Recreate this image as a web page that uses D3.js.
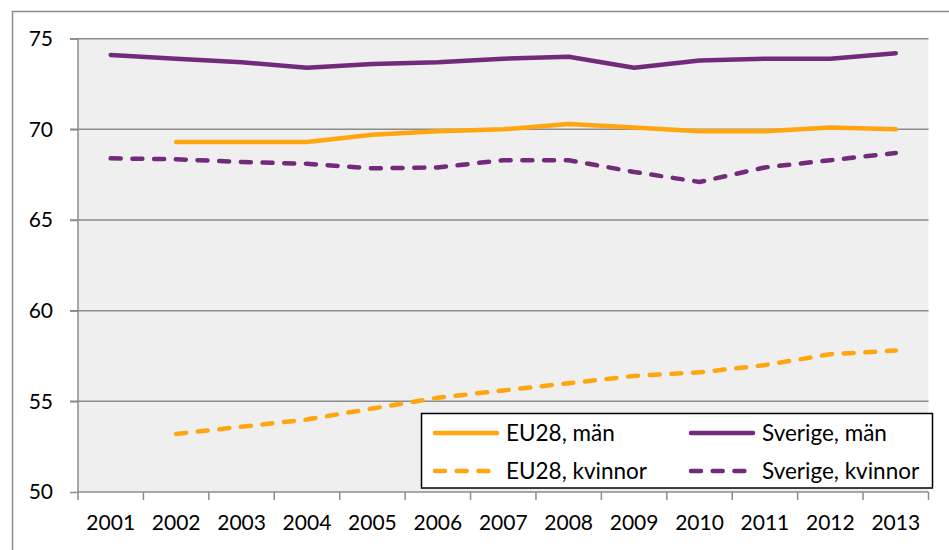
<!DOCTYPE html>
<html><head><meta charset="utf-8">
<script src="https://cdn.jsdelivr.net/npm/d3@7"></script>
<style>
html,body{margin:0;padding:0;background:#fff;}
svg{display:block;font-family:Lato,"Open Sans",sans-serif;}
</style></head>
<body><svg id="c" width="949" height="550"></svg>
<script>
const years = ["2001","2002","2003","2004","2005","2006","2007","2008","2009","2010","2011","2012","2013"];
const eu28Man = [null,69.3,69.3,69.3,69.7,69.9,70.0,70.3,70.1,69.9,69.9,70.1,70.0];
const sverigeMan = [74.1,73.9,73.7,73.4,73.6,73.7,73.9,74.0,73.4,73.8,73.9,73.9,74.2];
const eu28Kvinnor = [null,53.2,53.6,54.0,54.6,55.2,55.6,56.0,56.4,56.6,57.0,57.6,57.8];
const sverigeKvinnor = [68.4,68.35,68.2,68.1,67.85,67.9,68.3,68.3,67.65,67.1,67.9,68.3,68.7];
const yTicks = [50,55,60,65,70,75];
const seriesNames = ["EU28, män","Sverige, män","EU28, kvinnor","Sverige, kvinnor"];

const orange = "#FFA50F", purple = "#722B7B";
const svg = d3.select("#c");
const L = 78, R = 928.5, T = 38.7, B = 492;

// outer border
svg.append("path").attr("d","M12.5,550 V11.5 H949").attr("fill","none").attr("stroke","#8c8c8c").attr("stroke-width",1.5);

const x = d3.scaleBand().domain(years).range([L,R]).padding(0);
const y = d3.scaleLinear().domain([50,75]).range([B,T]);

svg.append("rect").attr("x",L).attr("y",T).attr("width",R-L).attr("height",B-T).attr("fill","#efefef");

// gridlines
svg.append("g").selectAll("line").data(yTicks.filter(d=>d>50)).join("line")
  .attr("x1",L-8).attr("x2",R).attr("y1",d=>y(d)).attr("y2",d=>y(d))
  .attr("stroke","#8c8c8c").attr("stroke-width",1.5);

// y axis
const ya = svg.append("g").attr("transform",`translate(${L},0)`)
  .call(d3.axisLeft(y).tickValues(yTicks).tickSize(8).tickPadding(17).tickFormat(d3.format("d")));
ya.select(".domain").attr("stroke","#8c8c8c").attr("stroke-width",1.5).attr("d",`M0,${T}V${B}`);
ya.selectAll(".tick line").attr("stroke","#8c8c8c").attr("stroke-width",1.5);
ya.selectAll(".tick text").attr("font-size",21).attr("fill","#000").attr("font-family","Lato");

// x axis
const xa = svg.append("g").attr("transform",`translate(0,${B})`)
  .call(d3.axisBottom(x).tickSize(0).tickPadding(23));
xa.select(".domain").attr("stroke","#8c8c8c").attr("stroke-width",1.5).attr("d",`M${L},0H${R}`);
xa.selectAll(".tick text").attr("font-size",21).attr("fill","#000").attr("font-family","Lato");
// tick marks at band boundaries
svg.append("g").selectAll("line").data(years.concat(["end"])).join("line")
  .attr("x1",(d,i)=>L+i*x.bandwidth()).attr("x2",(d,i)=>L+i*x.bandwidth())
  .attr("y1",B).attr("y2",B+8).attr("stroke","#8c8c8c").attr("stroke-width",1.5);

const line = d3.line().defined(d=>d.v!=null).x(d=>x(d.k)+x.bandwidth()/2).y(d=>y(d.v));
const series = [
  {vals:sverigeMan,color:purple,dash:null},
  {vals:eu28Man,color:orange,dash:null},
  {vals:sverigeKvinnor,color:purple,dash:"10,11.7"},
  {vals:eu28Kvinnor,color:orange,dash:"10,11.7"}
];
series.forEach(s=>{
  svg.append("path").datum(years.map((k,i)=>({k,v:s.vals[i]})))
    .attr("d",line).attr("fill","none").attr("stroke",s.color).attr("stroke-width",4.5)
    .attr("stroke-linecap","round").attr("stroke-linejoin","round")
    .attr("stroke-dasharray",s.dash);
});

// legend
const lg = svg.append("g");
lg.append("rect").attr("x",421.5).attr("y",413.5).attr("width",511).attr("height",74.5)
  .attr("fill","#fff").attr("stroke","#000").attr("stroke-width",1.5);
const legItems = [
  {name:seriesNames[0],color:orange,dash:null,x:433,y:433},
  {name:seriesNames[1],color:purple,dash:null,x:689,y:433},
  {name:seriesNames[2],color:orange,dash:"10,11.7",x:433,y:471},
  {name:seriesNames[3],color:purple,dash:"10,11.7",x:689,y:471}
];
legItems.forEach(it=>{
  lg.append("line").attr("x1",it.x+2).attr("x2",it.x+64).attr("y1",it.y).attr("y2",it.y)
    .attr("stroke",it.color).attr("stroke-width",4.5).attr("stroke-linecap","round")
    .attr("stroke-dasharray",it.dash);
  lg.append("text").attr("x",it.x+73).attr("y",it.y).attr("dy","0.35em")
    .attr("font-size",22.5).attr("fill","#000").text(it.name);
});
</script></body></html>
